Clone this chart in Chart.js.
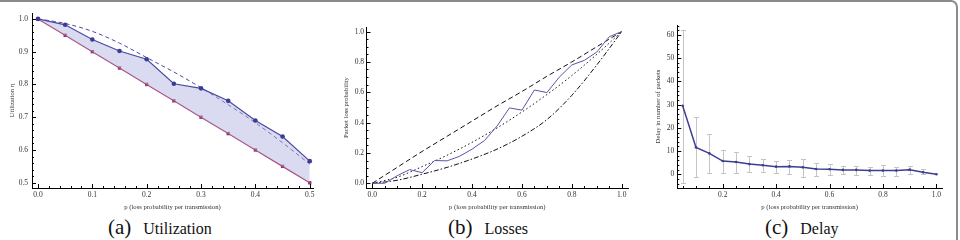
<!DOCTYPE html>
<html>
<head>
<meta charset="utf-8">
<script src="https://cdn.jsdelivr.net/npm/chart.js@4.4.1/dist/chart.umd.min.js"></script>
<style>
  body { margin: 0; width: 960px; height: 240px; background: #fff; position: relative; overflow: hidden; font-family: "Liberation Serif", serif; }
  .frame { position: absolute; left: -10px; top: 0; height: 300px; border: 2px solid #8a8a8a; border-radius: 7px; box-sizing: border-box; width: 968px; }
  canvas { position: absolute; top: 0; }
  .cap { position: absolute; top: 215px; font-size: 21px; line-height: 24px; white-space: nowrap; color: #111; }
  .cap span { font-size: 16px; margin-left: 12px; }
</style>
</head>
<body>
<div class="frame"></div>
<canvas id="chartA" width="320" height="215" style="left:0px"></canvas>
<canvas id="chartB" width="320" height="215" style="left:320px"></canvas>
<canvas id="chartC" width="320" height="215" style="left:640px"></canvas>
<div class="cap" style="left:108px">(a)<span>Utilization</span></div>
<div class="cap" style="left:448px">(b)<span>Losses</span></div>
<div class="cap" style="left:765px">(c)<span>Delay</span></div>

<script>
/* DATOS */
// (a) utilization
const pA = [0, 0.05, 0.1, 0.15, 0.2, 0.25, 0.3, 0.35, 0.4, 0.45, 0.5];
const utilSim = [1.0, 0.982, 0.937, 0.902, 0.877, 0.802, 0.788, 0.750, 0.690, 0.641, 0.566];
const utilLower = [1.0, 0.95, 0.9, 0.85, 0.8, 0.75, 0.7, 0.65, 0.6, 0.55, 0.5];
const utilBound = [1.0, 0.986, 0.962, 0.926, 0.882, 0.838, 0.790, 0.738, 0.683, 0.622, 0.557];
const aXTicks = [0, 0.1, 0.2, 0.3, 0.4, 0.5];
const aYTicks = [0.5, 0.6, 0.7, 0.8, 0.9, 1.0];

// (b) losses
const pB = [0, 0.05, 0.1, 0.15, 0.2, 0.25, 0.3, 0.35, 0.4, 0.45, 0.5, 0.55, 0.6, 0.65, 0.7, 0.75, 0.8, 0.85, 0.9, 0.95, 1.0];
const lossSim = [0, 0.0, 0.05, 0.09, 0.07, 0.15, 0.148, 0.178, 0.225, 0.282, 0.377, 0.497, 0.482, 0.615, 0.598, 0.70, 0.78, 0.81, 0.865, 0.966, 1.0];
const pBound = [0, 0.1, 0.2, 0.3, 0.4, 0.5, 0.6, 0.7, 0.8, 0.9, 1.0];
const lossUpper = [0, 0.105, 0.21, 0.31, 0.41, 0.51, 0.605, 0.705, 0.80, 0.90, 1.0];
const lossMiddle = [0, 0.04, 0.11, 0.185, 0.27, 0.365, 0.47, 0.585, 0.71, 0.85, 1.0];
const lossLower = [0, 0.02, 0.06, 0.105, 0.16, 0.225, 0.31, 0.42, 0.58, 0.78, 1.0];
const bXTicks = [0, 0.2, 0.4, 0.6, 0.8, 1.0];
const bYTicks = [0, 0.2, 0.4, 0.6, 0.8, 1.0];

// (c) delay
const pC = [0.05, 0.1, 0.15, 0.2, 0.25, 0.3, 0.35, 0.4, 0.45, 0.5, 0.55, 0.6, 0.65, 0.7, 0.75, 0.8, 0.85, 0.9, 0.95, 1.0];
const delay = [29.5, 11.6, 9.0, 5.7, 5.3, 4.4, 3.9, 3.3, 3.4, 3.0, 2.3, 2.2, 1.9, 1.9, 1.6, 1.6, 1.6, 2.0, 0.9, 0.0];
const delayHigh = [62.3, 24.5, 17.2, 10.3, 9.5, 7.8, 6.5, 5.7, 6.0, 6.5, 4.7, 4.3, 3.7, 3.6, 3.3, 3.9, 3.3, 3.6, 2.2, 0.0];
const delayLow = [-3.8, -1.3, 0.5, 0.5, 0.5, 0.8, 1.0, 0.5, 0.3, -1.0, -0.6, -0.3, 0.0, -0.3, -0.4, -0.7, -0.6, 0.0, 0.0, 0.0];
const cXTicks = [0.2, 0.4, 0.6, 0.8, 1.0];
const cYTicks = [0, 10, 20, 30, 40, 50, 60];

const xTitle = "p (loss probability per transmission)";
const tickFont = { family: "Liberation Serif", size: 7.5 };
const titleFont = { family: "Liberation Serif", size: 6.7 };
const H = 215;

function pts(xs, ys) {
  return xs.map((x, i) => ({ x: x, y: ys[i] }));
}

/* TICKS HACIA ADENTRO (estilo Mathematica) */
function inwardTicks(minorX, minorY) {
  return {
    id: "inwardTicks",
    afterDatasetsDraw(chart) {
      const ctx = chart.ctx;
      const xs = chart.scales.x, ys = chart.scales.y;
      const area = chart.chartArea;
      ctx.save();
      ctx.strokeStyle = "#000";
      ctx.lineWidth = 1;
      const majorX = xs.ticks.map(t => t.value);
      const majorY = ys.ticks.map(t => t.value);
      const isMajor = (v, list) => list.some(m => Math.abs(m - v) < 1e-6);
      ctx.beginPath();
      for (let k = Math.ceil(xs.min / minorX); k * minorX <= xs.max + 1e-9; k++) {
        const v = k * minorX;
        const px = Math.round(xs.getPixelForValue(v)) + 0.5;
        const len = isMajor(v, majorX) ? 4 : 2;
        ctx.moveTo(px, area.bottom);
        ctx.lineTo(px, area.bottom - len);
      }
      for (let k = Math.ceil(ys.min / minorY); k * minorY <= ys.max + 1e-9; k++) {
        const v = k * minorY;
        const py = Math.round(ys.getPixelForValue(v)) + 0.5;
        const len = isMajor(v, majorY) ? 4 : 2;
        ctx.moveTo(area.left, py);
        ctx.lineTo(area.left + len, py);
      }
      ctx.stroke();
      ctx.restore();
    }
  };
}

/* BARRAS DE ERROR */
const errorBars = {
  id: "errorBars",
  beforeDatasetsDraw(chart) {
    const ctx = chart.ctx;
    const xs = chart.scales.x, ys = chart.scales.y;
    ctx.save();
    ctx.strokeStyle = "#c4c4c8";
    ctx.lineWidth = 1;
    ctx.beginPath();
    pC.forEach((p, i) => {
      if (delayHigh[i] === delayLow[i]) return;
      const x = Math.round(xs.getPixelForValue(p)) + 0.5;
      const y1 = Math.round(ys.getPixelForValue(delayLow[i])) + 0.5;
      const y2 = Math.round(ys.getPixelForValue(delayHigh[i])) + 0.5;
      ctx.moveTo(x, y1); ctx.lineTo(x, y2);
      ctx.moveTo(x - 2.5, y1); ctx.lineTo(x + 2.5, y1);
      ctx.moveTo(x - 2.5, y2); ctx.lineTo(x + 2.5, y2);
    });
    ctx.stroke();
    ctx.restore();
  }
};

/* GRAFICO GENERICO */
function makeChart(id, datasets, cfg, extraPlugins) {
  return new Chart(document.getElementById(id), {
    type: "line",
    data: { datasets: datasets },
    options: {
      animation: false,
      responsive: false,
      layout: { padding: { left: 0, top: cfg.top, right: cfg.right, bottom: 0 } },
      plugins: { legend: { display: false }, tooltip: { enabled: false } },
      scales: {
        x: {
          type: "linear", min: cfg.xMin, max: cfg.xMax,
          afterBuildTicks: s => { s.ticks = cfg.xTicks.map(v => ({ value: v })); },
          afterFit: s => { s.height = H - cfg.bottom; },
          grid: { display: false, drawTicks: false },
          border: { display: true, color: "#000", width: 1 },
          ticks: { font: tickFont, color: "#333", padding: 3, maxRotation: 0, autoSkip: false,
                   callback: v => v.toFixed(cfg.xDec) },
          title: { display: true, text: xTitle, font: titleFont, color: "#333", padding: { top: 0, bottom: 4 } }
        },
        y: {
          type: "linear", min: cfg.yMin, max: cfg.yMax,
          afterBuildTicks: s => { s.ticks = cfg.yTicks.map(v => ({ value: v })); },
          afterFit: s => { s.width = cfg.left; },
          grid: { display: false, drawTicks: false },
          border: { display: true, color: "#000", width: 1 },
          ticks: { font: tickFont, color: "#333", padding: cfg.labelPad, autoSkip: false,
                   callback: v => v.toFixed(cfg.yDec) },
          title: { display: true, text: cfg.yTitle, font: titleFont, color: "#333", padding: { top: cfg.titlePad, bottom: 0 } }
        }
      }
    },
    plugins: extraPlugins
  });
}

/* (a) UTILIZACION */
makeChart("chartA", [
  { data: pts(pA, utilSim), borderColor: "#4a4aa2", borderWidth: 1.2, fill: 1,
    backgroundColor: "rgba(172,172,222,0.45)",
    pointRadius: 2.3, pointBackgroundColor: "#3c3c94", pointBorderWidth: 0 },
  { data: pts(pA, utilLower), borderColor: "#a4416f", borderWidth: 1.2, fill: false,
    pointStyle: "rect", pointRadius: 2.4, pointBackgroundColor: "#9a3866", pointBorderWidth: 0 },
  { data: pts(pA, utilBound), borderColor: "#4a4aa2", borderWidth: 1, borderDash: [4, 3],
    fill: false, pointRadius: 0, cubicInterpolationMode: "monotone" }
], { top: 13, right: 7, bottom: 188, left: 32, xMin: -0.011, xMax: 0.506, yMin: 0.484, yMax: 1.018,
     xTicks: aXTicks, yTicks: aYTicks, xDec: 1, yDec: 1, labelPad: 4, titlePad: 8,
     yTitle: "Utilization η" }, [inwardTicks(0.02, 0.02)]);

/* (b) PERDIDAS */
makeChart("chartB", [
  { data: pts(pB, lossSim), borderColor: "#5656aa", borderWidth: 1, fill: false, pointRadius: 0 },
  { data: pts(pBound, lossUpper), borderColor: "#111", borderWidth: 1, borderDash: [5, 3],
    fill: false, pointRadius: 0, cubicInterpolationMode: "monotone" },
  { data: pts(pBound, lossMiddle), borderColor: "#111", borderWidth: 1, borderDash: [1.5, 2.5],
    fill: false, pointRadius: 0, cubicInterpolationMode: "monotone" },
  { data: pts(pBound, lossLower), borderColor: "#111", borderWidth: 1, borderDash: [5, 2, 1.5, 2],
    fill: false, pointRadius: 0, cubicInterpolationMode: "monotone" }
], { top: 27, right: 12, bottom: 188, left: 46.5, xMin: -0.023, xMax: 1.025, yMin: -0.031, yMax: 1.03,
     xTicks: bXTicks, yTicks: bYTicks, xDec: 1, yDec: 1, labelPad: 2.5, titlePad: 22.7,
     yTitle: "Packet loss probability" }, [inwardTicks(0.05, 0.05)]);

/* (c) RETARDO */
makeChart("chartC", [
  { data: pts(pC, delay), borderColor: "#3e3e90", borderWidth: 1.5, fill: false,
    pointRadius: 1.3, pointBackgroundColor: "#3e3e90", pointBorderWidth: 0 }
], { top: 25, right: 18, bottom: 188, left: 37.3, xMin: 0.03, xMax: 1.021, yMin: -5.9, yMax: 64.3,
     xTicks: cXTicks, yTicks: cYTicks, xDec: 1, yDec: 0, labelPad: 3, titlePad: 14,
     yTitle: "Delay in number of packets" }, [errorBars, inwardTicks(0.05, 2)]);
</script>
</body>
</html>
